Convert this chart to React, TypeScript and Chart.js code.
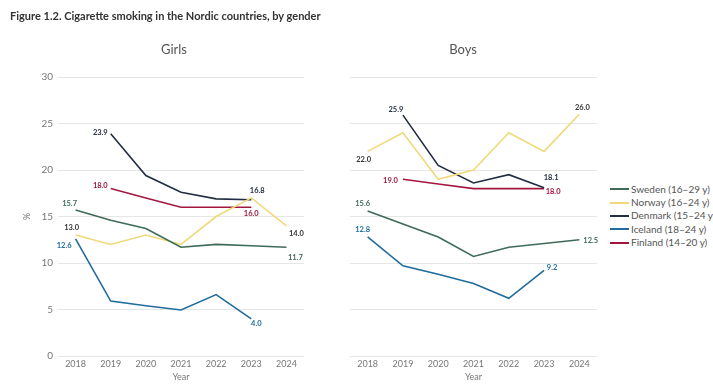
import React, { useEffect, useRef } from "react";
import { Chart, registerables } from "chart.js";

Chart.register(...registerables);

const years = ["2018", "2019", "2020", "2021", "2022", "2023", "2024"];
const yTickValues = [0, 5, 10, 15, 20, 25, 30];
const seriesNames = [
  "Sweden (16–29 y)",
  "Norway (16–24 y)",
  "Denmark (15–24 y)",
  "Iceland (18–24 y)",
  "Finland (14–20 y)",
];

const girlsSweden = [15.7, 14.6, 13.7, 11.7, 12.0, 11.85, 11.7];
const girlsNorway = [13.0, 12.0, 13.0, 12.0, 15.0, 17.0, 14.0];
const girlsDenmark = [null, 23.9, 19.4, 17.6, 16.9, 16.8, null];
const girlsIceland = [12.6, 5.9, 5.4, 4.95, 6.6, 4.0, null];
const girlsFinland = [null, 18.0, 17.0, 16.0, 16.0, 16.0, null];

const boysSweden = [15.6, 14.2, 12.8, 10.7, 11.7, 12.1, 12.5];
const boysNorway = [22.0, 24.0, 19.0, 20.0, 24.0, 22.0, 26.0];
const boysDenmark = [null, 25.9, 20.5, 18.6, 19.5, 18.1, null];
const boysIceland = [12.8, 9.7, 8.8, 7.8, 6.2, 9.2, null];
const boysFinland = [null, 19.0, 18.5, 18.0, 18.0, 18.0, null];

const lineColors = ["#3e6b58", "#f0d97a", "#232e43", "#1f6c9d", "#a3173f"];
const labelColors = ["#3e6b58", "#333333", "#232e43", "#1f6c9d", "#a3173f"];

const FONT = "Lato, 'Open Sans', 'DejaVu Sans', sans-serif";

type Place = { dx: number; dy: number; align?: CanvasTextAlign };

const girlsPlaces: [Place, Place][] = [
  [{ dx: -6, dy: -6 }, { dx: 9, dy: 10 }],
  [{ dx: -4, dy: -8 }, { dx: 10, dy: 8 }],
  [{ dx: -3, dy: -1, align: "right" }, { dx: 6, dy: -9 }],
  [{ dx: -4, dy: 7, align: "right" }, { dx: 5, dy: 5 }],
  [{ dx: -3, dy: -3, align: "right" }, { dx: 0, dy: 6 }],
];
const boysPlaces: [Place, Place][] = [
  [{ dx: -5, dy: -7 }, { dx: 4, dy: 1, align: "left" }],
  [{ dx: -4, dy: 8 }, { dx: 3, dy: -7 }],
  [{ dx: -7, dy: -6 }, { dx: 7, dy: -10 }],
  [{ dx: -5, dy: -7 }, { dx: 8, dy: -3 }],
  [{ dx: -5, dy: 1, align: "right" }, { dx: 9, dy: 3 }],
];

function makeLabelPlugin(places: [Place, Place][]) {
  return {
    id: "endLabels",
    afterDatasetsDraw(chart: any) {
      const ctx = chart.ctx as CanvasRenderingContext2D;
      ctx.save();
      ctx.font = `bold 7.5px ${FONT}`;
      ctx.textBaseline = "middle";
      chart.data.datasets.forEach((ds: any, i: number) => {
        const meta = chart.getDatasetMeta(i);
        const data = ds.data as (number | null)[];
        let first = -1;
        let last = -1;
        data.forEach((v, j) => {
          if (v !== null && v !== undefined) {
            if (first < 0) first = j;
            last = j;
          }
        });
        const pair: [number, Place][] = [
          [first, places[i][0]],
          [last, places[i][1]],
        ];
        pair.forEach(([idx, p]) => {
          const el = meta.data[idx];
          if (!el) return;
          ctx.fillStyle = labelColors[i];
          ctx.textAlign = p.align || "center";
          ctx.fillText((data[idx] as number).toFixed(1), el.x + p.dx, el.y + p.dy);
        });
      });
      ctx.restore();
    },
  };
}

function buildDatasets(values: (number | null)[][]) {
  return values.map((v, i) => ({
    label: seriesNames[i],
    data: v,
    borderColor: lineColors[i],
    backgroundColor: lineColors[i],
    borderWidth: 1.6,
    pointRadius: 0,
    pointHoverRadius: 0,
    tension: 0,
    fill: false,
  }));
}

type PanelProps = {
  values: (number | null)[][];
  places: [Place, Place][];
  left: number;
  width: number;
  showYLabels: boolean;
  padLeft: number;
  padRight: number;
};

function Panel({ values, places, left, width, showYLabels, padLeft, padRight }: PanelProps) {
  const ref = useRef<HTMLCanvasElement>(null);
  useEffect(() => {
    if (!ref.current) return;
    const chart = new Chart(ref.current, {
      type: "line",
      data: { labels: years, datasets: buildDatasets(values) as any },
      options: {
        animation: false,
        responsive: false,
        devicePixelRatio: 1,
        layout: { padding: { left: padLeft, right: padRight, top: 77, bottom: 0 } },
        plugins: {
          title: { display: false },
          tooltip: { enabled: false },
          legend: { display: false },
        },
        scales: {
          x: {
            offset: true,
            grid: { display: false, drawTicks: false },
            border: { display: false },
            ticks: { color: "#777777", padding: 3, font: { family: FONT, size: 9 } },
            title: {
              display: true,
              text: "Year",
              color: "#777777",
              font: { family: FONT, size: 9 },
              padding: { top: 0, bottom: 7.6 },
            },
            afterFit: (s: any) => {
              s.height = 34;
            },
          },
          y: {
            min: 0,
            max: 30,
            afterBuildTicks: (s: any) => {
              s.ticks = yTickValues.map((v) => ({ value: v }));
            },
            grid: { color: "#e6e6e6", drawTicks: false, lineWidth: 1 },
            border: { display: false },
            ticks: {
              display: showYLabels,
              color: "#777777",
              padding: 5,
              font: { family: FONT, size: 10 },
            },
            title: {
              display: showYLabels,
              text: "%",
              color: "#777777",
              font: { family: FONT, size: 9 },
              padding: { top: 11.6, bottom: 0 },
            },
            afterFit: (s: any) => {
              s.width = showYLabels ? 48 : 0;
            },
          },
        },
      },
      plugins: [makeLabelPlugin(places)],
    });
    return () => chart.destroy();
  }, []);
  return (
    <canvas
      ref={ref}
      width={width}
      height={390}
      style={{ position: "absolute", left, top: 0, width, height: 390 }}
    />
  );
}

function Legend() {
  return (
    <div style={{ position: "absolute", left: 610, top: 182.5 }}>
      {seriesNames.map((name, i) => (
        <div
          key={name}
          style={{ display: "flex", alignItems: "center", height: 13.4, whiteSpace: "nowrap" }}
        >
          <div style={{ width: 19, height: 2, background: lineColors[i], marginRight: 2 }} />
          <span style={{ fontSize: 10, color: "#555555", lineHeight: "13px" }}>{name}</span>
        </div>
      ))}
    </div>
  );
}

export default function App() {
  return (
    <div
      style={{
        position: "absolute",
        left: 0,
        top: 0,
        width: 713,
        height: 390,
        background: "#ffffff",
        overflow: "hidden",
        fontFamily: FONT,
      }}
    >
      <Panel
        values={[girlsSweden, girlsNorway, girlsDenmark, girlsIceland, girlsFinland]}
        places={girlsPlaces}
        left={0}
        width={330}
        showYLabels={true}
        padLeft={10}
        padRight={26}
      />
      <Panel
        values={[boysSweden, boysNorway, boysDenmark, boysIceland, boysFinland]}
        places={boysPlaces}
        left={330}
        width={277}
        showYLabels={false}
        padLeft={20}
        padRight={10}
      />
      <Legend />
      <div
        style={{
          position: "absolute",
          left: 10,
          top: 9,
          fontSize: 11,
          fontWeight: 700,
          color: "#333333",
          whiteSpace: "nowrap",
        }}
      >
        Figure 1.2. Cigarette smoking in the Nordic countries, by gender
      </div>
      <div
        style={{
          position: "absolute",
          left: 124,
          width: 100,
          top: 41,
          textAlign: "center",
          fontSize: 13,
          color: "#555555",
        }}
      >
        Girls
      </div>
      <div
        style={{
          position: "absolute",
          left: 413,
          width: 100,
          top: 41,
          textAlign: "center",
          fontSize: 13,
          color: "#555555",
        }}
      >
        Boys
      </div>
    </div>
  );
}
